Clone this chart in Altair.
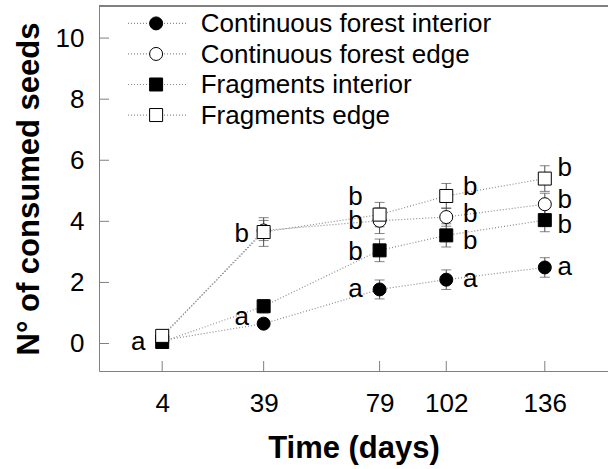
import altair as alt
import pandas as pd

# ---------------- data ----------------
times = [4, 39, 79, 102, 136]
series_names = ["Continuous forest interior", "Continuous forest edge",
                "Fragments interior", "Fragments edge"]

cf_interior = [0.10, 0.65, 1.77, 2.09, 2.49]
cf_interior_se = [0.06, 0.10, 0.31, 0.32, 0.32]
cf_edge = [0.22, 3.70, 4.02, 4.14, 4.56]
cf_edge_se = [0.08, 0.33, 0.42, 0.30, 0.36]
fr_interior = [0.05, 1.22, 3.05, 3.54, 4.04]
fr_interior_se = [0.04, 0.22, 0.37, 0.38, 0.38]
fr_edge = [0.25, 3.65, 4.22, 4.83, 5.40]
fr_edge_se = [0.08, 0.47, 0.40, 0.41, 0.42]

letter_time = [4, 39, 39, 79, 79, 79, 79, 102, 102, 102, 102, 136, 136, 136, 136]
letter_value = [0.05, 3.60, 0.87, 4.80, 4.01, 2.98, 1.77,
                5.12, 4.23, 3.35, 2.10, 5.73, 4.71, 3.87, 2.51]
letter_text = ["a", "b", "a", "b", "b", "b", "a", "b", "b", "b", "a", "b", "b", "b", "a"]

y_ticks = [0, 2, 4, 6, 8, 10]

# ---------------- tables ----------------
means = [cf_interior, cf_edge, fr_interior, fr_edge]
ses = [cf_interior_se, cf_edge_se, fr_interior_se, fr_edge_se]
rows = []
for name, m, s in zip(series_names, means, ses):
    for t, v, e in zip(times, m, s):
        rows.append({"series": name, "time": t, "value": v, "lo": v - e, "hi": v + e})
df = pd.DataFrame(rows)

letters = pd.DataFrame({"time": letter_time, "value": letter_value, "label": letter_text})

# legend rows (one data unit apart, in the plot's own coordinates)
leg = pd.DataFrame({
    "series": series_names,
    "ly": [10.48 - i for i in range(len(series_names))],
})
leg["x0"] = -7.8
leg["x1"] = 12.25
leg["xs"] = 1.9
leg["xt"] = 17.3

FONT = "Liberation Sans"
GRAY = "#808080"
W, H = 509, 365

xscale = alt.Scale(domain=[-17.8, 157.8], nice=False, zero=False)
yscale = alt.Scale(domain=[-0.9, 11.05], nice=False, zero=False)

xaxis = alt.Axis(values=times, ticks=False, tickSize=0, grid=False, labelPadding=19,
                 labelFontSize=26, labelFont=FONT, labelColor="black",
                 domainColor=GRAY, domainWidth=1,
                 title="Time (days)", titleFont=FONT, titleFontSize=31,
                 titleFontWeight="bold", titleColor="black", titlePadding=17)
yaxis = alt.Axis(values=y_ticks, ticks=False, tickSize=0, grid=False, labelPadding=15,
                 labelFontSize=26, labelFont=FONT, labelColor="black",
                 domainColor=GRAY, domainWidth=1,
                 title="N° of consumed seeds", titleFont=FONT, titleFontSize=31,
                 titleFontWeight="bold", titleColor="black", titlePadding=10)

X = alt.X("time:Q", scale=xscale, axis=xaxis)
Y = alt.Y("value:Q", scale=yscale, axis=yaxis)

shape_scale = alt.Scale(domain=series_names, range=["circle", "circle", "square", "square"])
fill_scale = alt.Scale(domain=series_names, range=["black", "white", "black", "white"])
size_scale = alt.Scale(domain=series_names, range=[169, 169, 137, 118])

base = alt.Chart(df)

lines = base.mark_line(color="#8c8c8c", strokeDash=[1, 2], strokeWidth=1.2).encode(
    x=X, y=Y, detail="series:N")

err = base.mark_rule(color="#505050", strokeWidth=1).encode(
    x=X, y=alt.Y("lo:Q", scale=yscale, axis=yaxis), y2="hi:Q")
cap_lo = base.mark_tick(color="#505050", orient="horizontal", size=10, thickness=1).encode(
    x=X, y=alt.Y("lo:Q", scale=yscale, axis=yaxis))
cap_hi = base.mark_tick(color="#505050", orient="horizontal", size=10, thickness=1).encode(
    x=X, y=alt.Y("hi:Q", scale=yscale, axis=yaxis))

points = base.mark_point(filled=False, stroke="black", strokeWidth=1, opacity=1).encode(
    x=X, y=Y,
    shape=alt.Shape("series:N", scale=shape_scale, legend=None),
    fill=alt.Fill("series:N", scale=fill_scale, legend=None),
    size=alt.Size("series:N", scale=size_scale, legend=None),
)

dx_by_time = {4: -24, 39: -22, 79: -24, 102: 24, 136: 20}
letter_layers = []
for t, dx in dx_by_time.items():
    letter_layers.append(
        alt.Chart(letters[letters["time"] == t]).mark_text(
            font=FONT, fontSize=26, color="black", align="center", baseline="middle", dx=dx
        ).encode(x=X, y=Y, text="label:N")
    )

# inward ticks
yt = alt.Chart(pd.DataFrame({"value": y_ticks})).mark_rule(color=GRAY, strokeWidth=1).encode(
    y=Y, x=alt.value(0), x2=alt.value(10))
xt = alt.Chart(pd.DataFrame({"time": times})).mark_rule(color=GRAY, strokeWidth=1).encode(
    x=X, y=alt.value(H), y2=alt.value(H - 10))
top_border = alt.Chart(pd.DataFrame({"time": [0]})).mark_rule(color=GRAY, strokeWidth=2).encode(
    x=alt.value(0), x2=alt.value(W), y=alt.value(0))

legbase = alt.Chart(leg)
leg_lines = legbase.mark_rule(color="#8c8c8c", strokeDash=[1, 2], strokeWidth=1.2).encode(
    x=alt.X("x0:Q", scale=xscale, axis=xaxis), x2="x1:Q",
    y=alt.Y("ly:Q", scale=yscale, axis=yaxis))
leg_pts = legbase.mark_point(filled=False, stroke="black", strokeWidth=1, opacity=1).encode(
    x=alt.X("xs:Q", scale=xscale, axis=xaxis),
    y=alt.Y("ly:Q", scale=yscale, axis=yaxis),
    shape=alt.Shape("series:N", scale=shape_scale, legend=None),
    fill=alt.Fill("series:N", scale=fill_scale, legend=None),
    size=alt.Size("series:N", scale=size_scale, legend=None),
)
leg_txt = legbase.mark_text(font=FONT, fontSize=26, color="black", align="left",
                            baseline="middle", dy=1).encode(
    x=alt.X("xt:Q", scale=xscale, axis=xaxis),
    y=alt.Y("ly:Q", scale=yscale, axis=yaxis),
    text="series:N")

chart = alt.layer(
    top_border, yt, xt, lines, err, cap_lo, cap_hi, points, *letter_layers,
    leg_lines, leg_pts, leg_txt
).properties(
    width=W, height=H,
    padding={"left": 99, "top": 6, "right": 0, "bottom": 98},
    autosize=alt.AutoSizeParams(type="none"),
    background="white",
).configure_view(stroke=None)

chart.save("out.html", embed_options={"renderer": "svg", "actions": False})
